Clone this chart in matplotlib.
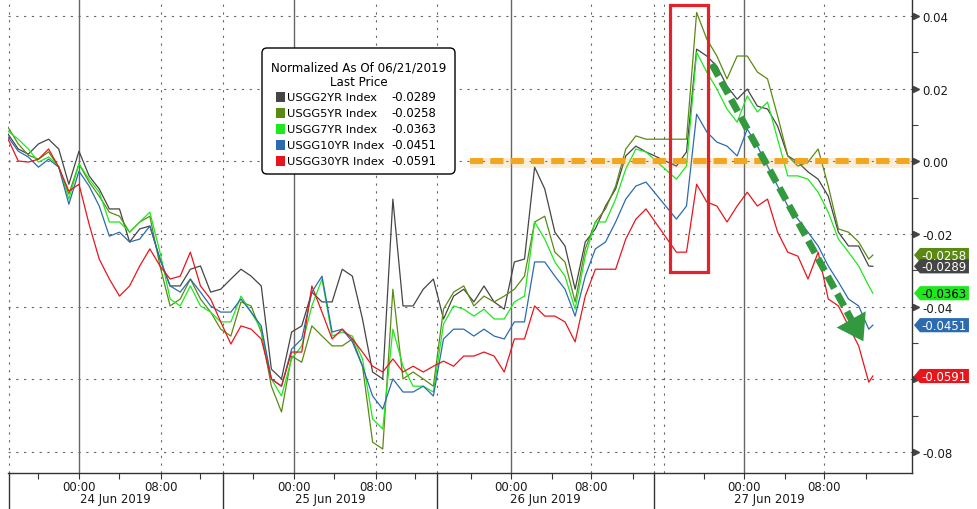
import matplotlib
matplotlib.use("Agg")
import matplotlib.pyplot as plt
import matplotlib.transforms as mtransforms
from matplotlib.patches import Polygon, FancyBboxPatch, Rectangle

plt.rcParams['font.family'] = 'DejaVu Sans'
plt.rcParams['axes.unicode_minus'] = False

# trading-hours axis: 0 = 00:00 24 Jun 2019, overnight breaks compressed
hours = list(range(-7, 57)) + list(range(59, 79)) + [78.4]

usgg2yr = [
    0.0075, 0.0034, 0.0020, 0.0048, 0.0061, 0.0034, -0.0063, 0.0028,
    -0.0040, -0.0076, -0.0131, -0.0131, -0.0222, -0.0186, -0.0178, -0.0269,
    -0.0343, -0.0343, -0.0297, -0.0288, -0.0360, -0.0352, -0.0324, -0.0297,
    -0.0316, -0.0343, -0.0572, -0.0599, -0.0470, -0.0453, -0.0360, -0.0387,
    -0.0387, -0.0297, -0.0316, -0.0434, -0.0580, -0.0599, -0.0104, -0.0398,
    -0.0398, -0.0352, -0.0324, -0.0434, -0.0371, -0.0352, -0.0387, -0.0343,
    -0.0387, -0.0407, -0.0277, -0.0269, -0.0016, -0.0076, -0.0195, -0.0233,
    -0.0352, -0.0222, -0.0186, -0.0123, -0.0076, 0.0015, 0.0042, 0.0026,
    -0.0013, 0.0026, 0.0309, 0.0290, 0.0262, 0.0207, 0.0171, 0.0199,
    0.0152, 0.0144, 0.0097, 0.0015, -0.0002, -0.0029, -0.0049, -0.0096,
    -0.0195, -0.0233, -0.0233, -0.0288, -0.0289]
usgg5yr = [
    0.0094, 0.0048, 0.0017, 0.0006, 0.0026, -0.0016, -0.0090, -0.0007,
    -0.0057, -0.0096, -0.0140, -0.0151, -0.0195, -0.0167, -0.0151, -0.0288,
    -0.0398, -0.0379, -0.0324, -0.0379, -0.0415, -0.0462, -0.0481, -0.0387,
    -0.0398, -0.0470, -0.0619, -0.0690, -0.0536, -0.0553, -0.0453, -0.0481,
    -0.0508, -0.0508, -0.0489, -0.0564, -0.0773, -0.0792, -0.0352, -0.0599,
    -0.0580, -0.0599, -0.0619, -0.0407, -0.0360, -0.0343, -0.0398, -0.0371,
    -0.0387, -0.0371, -0.0352, -0.0316, -0.0167, -0.0151, -0.0250, -0.0277,
    -0.0387, -0.0241, -0.0167, -0.0131, -0.0068, 0.0034, 0.0070, 0.0061,
    0.0061, 0.0061, 0.0410, 0.0337, 0.0290, 0.0227, 0.0290, 0.0290,
    0.0246, 0.0227, 0.0125, 0.0015, -0.0013, -0.0002, 0.0034, -0.0068,
    -0.0186, -0.0195, -0.0222, -0.0269, -0.0258]
usgg7yr = [
    0.0083, 0.0061, 0.0034, -0.0002, 0.0012, -0.0013, -0.0104, -0.0007,
    -0.0049, -0.0085, -0.0167, -0.0167, -0.0195, -0.0167, -0.0140, -0.0250,
    -0.0379, -0.0398, -0.0343, -0.0398, -0.0415, -0.0442, -0.0442, -0.0371,
    -0.0415, -0.0462, -0.0599, -0.0646, -0.0544, -0.0508, -0.0398, -0.0324,
    -0.0481, -0.0470, -0.0481, -0.0544, -0.0709, -0.0737, -0.0462, -0.0564,
    -0.0619, -0.0619, -0.0635, -0.0448, -0.0398, -0.0407, -0.0426, -0.0407,
    -0.0434, -0.0434, -0.0387, -0.0371, -0.0167, -0.0214, -0.0277, -0.0316,
    -0.0407, -0.0261, -0.0167, -0.0167, -0.0104, -0.0021, 0.0034, 0.0026,
    -0.0049, -0.0013, 0.0300, 0.0246, 0.0199, 0.0144, 0.0108, 0.0180,
    0.0136, 0.0163, 0.0061, -0.0040, -0.0040, -0.0049, -0.0085, -0.0140,
    -0.0214, -0.0250, -0.0288, -0.0343, -0.0363]
usgg10yr = [
    0.0067, 0.0028, 0.0012, -0.0016, 0.0006, -0.0016, -0.0118, -0.0027,
    -0.0068, -0.0123, -0.0206, -0.0195, -0.0222, -0.0214, -0.0178, -0.0269,
    -0.0343, -0.0360, -0.0324, -0.0360, -0.0398, -0.0415, -0.0415, -0.0379,
    -0.0415, -0.0453, -0.0599, -0.0619, -0.0517, -0.0489, -0.0360, -0.0316,
    -0.0470, -0.0462, -0.0497, -0.0564, -0.0646, -0.0682, -0.0599, -0.0635,
    -0.0635, -0.0619, -0.0646, -0.0489, -0.0462, -0.0462, -0.0481, -0.0462,
    -0.0481, -0.0489, -0.0442, -0.0442, -0.0277, -0.0277, -0.0316, -0.0352,
    -0.0426, -0.0316, -0.0241, -0.0222, -0.0167, -0.0104, -0.0068, -0.0057,
    -0.0159, -0.0123, 0.0130, 0.0081, 0.0053, 0.0042, 0.0015, 0.0089,
    0.0042, -0.0013, -0.0068, -0.0123, -0.0159, -0.0195, -0.0233, -0.0288,
    -0.0332, -0.0379, -0.0398, -0.0462, -0.0451]
usgg30yr = [
    0.0061, 0.0001, -0.0002, 0.0006, 0.0034, -0.0016, -0.0082, -0.0063,
    -0.0173, -0.0269, -0.0324, -0.0371, -0.0343, -0.0288, -0.0241, -0.0288,
    -0.0324, -0.0316, -0.0250, -0.0343, -0.0379, -0.0442, -0.0503, -0.0453,
    -0.0462, -0.0489, -0.0599, -0.0619, -0.0525, -0.0525, -0.0343, -0.0415,
    -0.0489, -0.0462, -0.0489, -0.0525, -0.0564, -0.0580, -0.0544, -0.0580,
    -0.0564, -0.0580, -0.0564, -0.0550, -0.0564, -0.0536, -0.0536, -0.0525,
    -0.0536, -0.0580, -0.0489, -0.0489, -0.0398, -0.0426, -0.0426, -0.0442,
    -0.0497, -0.0371, -0.0297, -0.0297, -0.0297, -0.0214, -0.0159, -0.0131,
    -0.0250, -0.0250, -0.0063, -0.0112, -0.0123, -0.0167, -0.0123, -0.0085,
    -0.0123, -0.0104, -0.0195, -0.0250, -0.0261, -0.0324, -0.0250, -0.0379,
    -0.0398, -0.0453, -0.0508, -0.0608, -0.0591]

names = ['USGG2YR Index', 'USGG5YR Index', 'USGG7YR Index', 'USGG10YR Index', 'USGG30YR Index']
last_price = [-0.0289, -0.0258, -0.0363, -0.0451, -0.0591]
series = [usgg2yr, usgg5yr, usgg7yr, usgg10yr, usgg30yr]
colors = ['#454545', '#5b8a14', '#1ee81e', '#2c6bb0', '#e8161c']
tag_text = ['white', 'white', 'black', 'white', 'white']

midnights = [0, 21.2, 42.7, 65.7]
mornings = [8.1, 29.3, 50.6, 73.6]
day_bounds = [-7.0, 14.2, 35.4, 56.8, 79.6]
day_labels = ['24 Jun 2019', '25 Jun 2019', '26 Jun 2019', '27 Jun 2019']
y_ticks = [0.04, 0.02, 0.00, -0.02, -0.04, -0.06, -0.08]
y_labels = ['0.04', '0.02', '0.00', '-0.02', '-0.04', '', '-0.08']  # -0.06 sits under the red tag
y_minor = [0.03, 0.01, -0.01, -0.03, -0.05, -0.07]

fig = plt.figure(figsize=(9.77, 5.10), dpi=100)
ax = fig.add_axes([8 / 977, 36 / 510, 904 / 977, 474 / 510])
ax.set_xlim(-7.01, 82.27)
ax.set_ylim(-0.0858, 0.0447)

for s in ['top', 'left']:
    ax.spines[s].set_visible(False)
for s in ['bottom', 'right']:
    ax.spines[s].set_color('#333333')
    ax.spines[s].set_linewidth(1.0)

# grid
dot = (0, (2, 5))
for y in y_ticks:
    ax.axhline(y, color='#666666', lw=0.8, ls=dot, zorder=1)
for m in midnights:
    ax.axvline(m, color='#666666', lw=1.0, zorder=1)
for m in mornings + day_bounds[:4] + [57.8]:
    ax.axvline(m + (0.05 if m == -7.0 else 0), color='#666666', lw=0.8, ls=dot, zorder=1)

# y axis on the right
ax.yaxis.tick_right()
ax.set_yticks(y_ticks)
ax.set_yticklabels(y_labels, fontsize=8.5, color='#1a1a1a')
ax.set_yticks(y_minor, minor=True)
ax.tick_params(axis='y', which='major', length=0, pad=7.5)
ax.tick_params(axis='y', which='minor', length=4, width=0.8, color='#444444', direction='out')
ytrans = mtransforms.blended_transform_factory(ax.transAxes, ax.transData)
ax.plot([1.0045] * len(y_ticks), y_ticks, ls='none', marker='>', ms=5, color='#444444',
        transform=ytrans, clip_on=False)

# x axis: times + dates
xt_major = midnights + mornings
ax.set_xticks(xt_major)
ax.set_xticklabels(['00:00'] * 4 + ['08:00'] * 4, fontsize=8.5, color='#1a1a1a')
ax.set_xticks([m + d for m in midnights for d in (-4, 4, 12)], minor=True)
ax.tick_params(axis='x', which='both', length=4, width=0.8, color='#333333', direction='out', pad=1)
xtrans = mtransforms.blended_transform_factory(ax.transData, ax.transAxes)
for i, lab in enumerate(day_labels):
    ax.text((day_bounds[i] + day_bounds[i + 1]) / 2, -26 / 474, lab, transform=xtrans,
            ha='center', va='center', fontsize=8.5, color='#1a1a1a')
for b in day_bounds[:4]:
    ax.plot([b + (0.05 if b == -7.0 else 0)] * 2, [0, -36 / 474], color='#333333', lw=1.0,
            transform=xtrans, clip_on=False)

# series
for s, c in zip(series, colors):
    ax.plot(hours, s, color=c, lw=0.9, zorder=3)

# orange zero line
ax.plot([38.6, 82.27], [-0.0004, -0.0004], color='#e8a030', lw=7, alpha=0.18, zorder=4,
        solid_capstyle='butt')
ax.plot([38.6, 82.27], [0, 0], color='#f2a51f', lw=4.3, dashes=(2.2, 1.2), zorder=5,
        solid_capstyle='butt')

# red box
ax.add_patch(Rectangle((58.4, -0.0305), 3.7, 0.0735, fill=False, ec='#e3232b', lw=2.3, zorder=6))

# green dashed arrow
ax.plot([62.5, 76.6], [0.0268, -0.0452], color='#33993f', lw=5, dashes=(2.0, 0.9), zorder=6,
        solid_capstyle='butt')
ax.annotate('', xy=(77.6, -0.0502), xytext=(76.1, -0.0427),
            arrowprops=dict(arrowstyle='-|>,head_length=0.9,head_width=0.6', color='#33993f',
                            lw=0, mutation_scale=20), zorder=7)

# last-price tags on the right axis
hh = 0.00195
for idx in [1, 0, 2, 3, 4]:
    v = last_price[idx]
    poly = Polygon([(1.0022, v), (1.0088, v + hh), (1.063, v + hh), (1.063, v - hh), (1.0088, v - hh)],
                   closed=True, fc=colors[idx], ec='none', transform=ytrans, clip_on=False, zorder=8)
    ax.add_patch(poly)
    ax.text(1.0105, v, f'{v:.4f}', transform=ytrans, ha='left', va='center', fontsize=8.5,
            color=tag_text[idx], clip_on=False, zorder=9)

# legend box
inch = fig.dpi_scale_trans
def P(x, y):
    return (x / 100, (510 - y) / 100)

box = FancyBboxPatch(P(262, 175), 1.93, 1.26, boxstyle='round,pad=0,rounding_size=0.05',
                     fc='white', ec='black', lw=1.0, transform=inch)
fig.patches.append(box)
fig.text(*P(358.5, 68), 'Normalized As Of 06/21/2019', transform=inch, ha='center', va='center',
         fontsize=8.6, color='black')
fig.text(*P(358.5, 83), 'Last Price', transform=inch, ha='center', va='center',
         fontsize=8.6, color='black')
for i, (n, c, v) in enumerate(zip(names, colors, last_price)):
    yc = 98 + 16 * i
    sq = Rectangle(P(276, yc + 5), 0.09, 0.10, fc=c, ec='none', transform=inch)
    fig.patches.append(sq)
    fig.text(*P(287, yc), n, transform=inch, ha='left', va='center', fontsize=8.2, color='black')
    fig.text(*P(436, yc), f'{v:.4f}', transform=inch, ha='right', va='center', fontsize=8.4,
             color='black')

fig.savefig('out.png', dpi=100)
